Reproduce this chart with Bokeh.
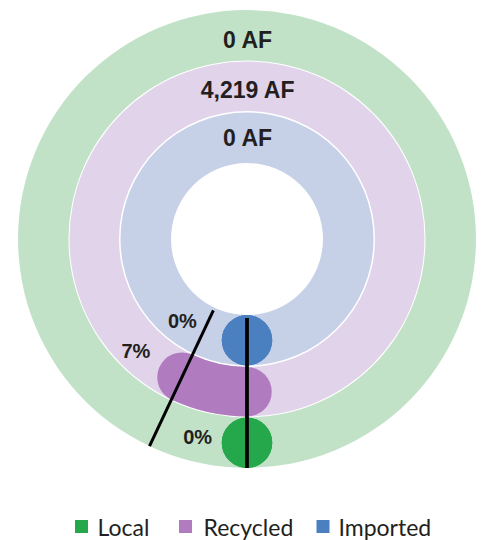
import math
from bokeh.plotting import figure
from bokeh.models import Range1d
from bokeh.core.properties import value
from bokeh.embed import file_html
from bokeh.resources import INLINE

# ---- data ----
categories = ["Local", "Recycled", "Imported"]
volumes_af = [0, 4219, 0]
percents = [0, 7, 0]
ring_labels = ["0 AF", "4,219 AF", "0 AF"]
pct_labels = ["0%", "7%", "0%"]

# ---- styles / layout ----
dark_colors = ["#25a84c", "#b07cbf", "#4a7fc0"]
light_colors = ["#c2e2c8", "#e1d3ea", "#c6d0e7"]
inner_r = [178.5, 128.0, 76.0]
outer_r = [229.0, 177.5, 126.5]
line_r0, line_r1 = 79.0, 229.0
pct_label_r = [204.0, 158.0, 104.0]
pct_label_deg = [14.0, 44.7, 38.4]
ring_label_dy = [199.0, 149.0, 101.0]
text_color = "#231f20"

W, H = 486, 540
cx_px, cy_px = 246.5, 238.5  # centre in screenshot pixels
x0 = -cx_px
y1 = cy_px

p = figure(width=W, height=H, output_backend="svg", toolbar_location=None,
           x_range=Range1d(x0, x0 + W), y_range=Range1d(y1 - H, y1),
           min_border=0, outline_line_color=None)
p.axis.visible = False
p.grid.visible = False
p.background_fill_color = "white"


def pt(r, deg_from_bottom):
    a = math.radians(270.0 - deg_from_bottom)
    return r * math.cos(a), r * math.sin(a)


# light rings
for i in range(3):
    p.annulus(x=0, y=0, inner_radius=inner_r[i], outer_radius=outer_r[i],
              fill_color=light_colors[i], line_color=None)

# dark arcs with round caps
for i in range(3):
    sweep = percents[i] * 3.6
    mid = (inner_r[i] + outer_r[i]) / 2
    cap = (outer_r[i] - inner_r[i]) / 2
    if sweep > 0:
        p.annular_wedge(x=0, y=0, inner_radius=inner_r[i], outer_radius=outer_r[i],
                        start_angle=math.radians(270 - sweep), end_angle=math.radians(270),
                        fill_color=dark_colors[i], line_color=None)
    xs, ys = pt(mid, 0)
    xe, ye = pt(mid, sweep)
    p.circle(x=[xs, xe], y=[ys, ye], radius=cap, fill_color=dark_colors[i], line_color=None)

# black boundary lines
angles = [0.0] + [pc * 3.6 for pc in percents]
for ang in angles:
    xa, ya = pt(line_r0, ang)
    xb, yb = pt(line_r1, ang)
    p.segment(x0=[xa], y0=[ya], x1=[xb], y1=[yb], line_color="black", line_width=3)

# ring volume labels
for i in range(3):
    p.text(x=[1.0], y=[ring_label_dy[i]], text=[ring_labels[i]],
           text_font=value("Liberation Sans"), text_font_style="bold",
           text_font_size="23px", text_color=text_color,
           text_align="center", text_baseline="middle")

# percentage labels
for i in range(3):
    lx, ly = pt(pct_label_r[i], pct_label_deg[i])
    p.text(x=[lx], y=[ly], text=[pct_labels[i]],
           text_font=value("Liberation Sans"), text_font_style="bold",
           text_font_size="20px", text_color=text_color,
           text_align="center", text_baseline="middle")

# legend
leg_sq_px = [81, 185, 322.5]
leg_tx_px = [97, 203, 338]
leg_y_px = 526
for i in range(3):
    p.scatter(x=[leg_sq_px[i] - cx_px], y=[cy_px - leg_y_px], marker="square", size=13,
              fill_color=dark_colors[i], line_color=None)
    p.text(x=[leg_tx_px[i] - cx_px], y=[cy_px - leg_y_px], text=[categories[i]],
           text_font=value("Lato"), text_font_size="23px", text_color=text_color,
           text_align="left", text_baseline="middle")

open("out.html", "w").write(file_html(p, INLINE))
